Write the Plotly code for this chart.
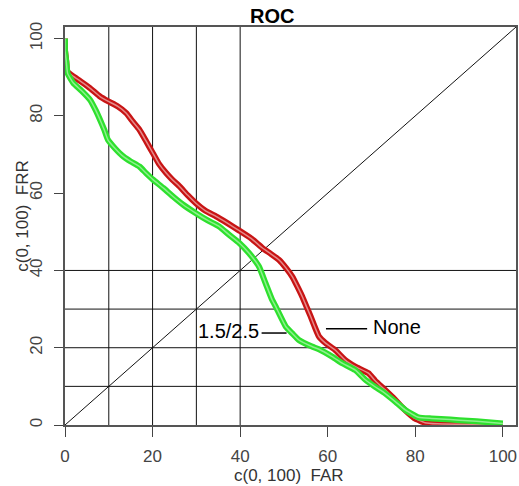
import plotly.graph_objects as go

# ---- data ----
red_far = [0, 0, 0.3, 0.5, 1.9, 3.5, 5.7, 8, 9.8, 12, 14, 15.5, 17, 18.5, 20.1, 21.5, 23.1, 24.5,
           26.1, 28, 29.9, 32, 34.5, 37, 39.8, 42.5, 45.1, 47, 48.9, 50.5, 51.9, 53, 54.2, 55.2,
           56.1, 57, 58, 59.5, 61.7, 64, 66.3, 69.3, 70.8, 73.1, 75, 76.9, 78.5, 79.9, 82.2, 85,
           90, 95, 100]
red_frr = [100, 97, 94, 91.5, 90.2, 89, 87.2, 85, 83.8, 82.5, 80.7, 78.5, 76.4, 73.5, 70.3, 67.5,
           65.2, 63.5, 61.8, 59.5, 57.4, 55.5, 54, 52.3, 50.3, 48.3, 45.8, 44.3, 42.7, 40.6, 38.4,
           36, 33.2, 30.5, 28.1, 25.5, 22.9, 21.2, 19.4, 16.8, 15.1, 13.4, 11.5, 9.1, 7, 4.7, 3,
           1.7, 0.6, 0.3, 0.2, 0.1, 0]

green_far = [0, 0, 0.3, 0.6, 1.9, 3.8, 5.7, 7, 8, 9, 9.8, 11.5, 13.3, 15, 17, 18.5, 20.1, 22.5,
             24.6, 27, 29.9, 32.5, 35.2, 37.5, 39.8, 42, 44.3, 45.8, 47.3, 48.1, 50.4, 51.9, 53.4,
             56.4, 58, 61, 63.3, 66.3, 68.6, 70.8, 73.1, 75.5, 77.7, 80.7, 83.7, 88, 92, 96, 100]
green_frr = [100, 97, 94, 91, 88.5, 86.5, 84.2, 81.5, 79, 76.3, 73.8, 71.5, 69.5, 68.2, 66.9, 65.2,
             63.5, 61.3, 59.2, 57, 54.8, 53, 51.4, 49.2, 47.1, 44.5, 41, 36.7, 32.4, 30.7, 25.5,
             23.7, 22, 20.3, 19.6, 17.7, 16, 14.2, 11.7, 9.9, 8.2, 6, 3.9, 2, 1.7, 1.4, 1.1, 0.8,
             0.4]

x_ticks = [0, 20, 40, 60, 80, 100]
y_ticks = [0, 20, 40, 60, 80, 100]
v_lines = [10, 20, 30, 40]
h_lines = [10, 20, 30, 40]
axis_max = 103

title_text = "ROC"
x_title = "c(0, 100)\u00a0 FAR"
y_title = "c(0, 100)\u00a0 FRR"

FONT = "Liberation Sans, Arial, sans-serif"

fig = go.Figure()

# red series ("None")
fig.add_trace(go.Scatter(x=red_far, y=red_frr, mode="lines",
                         line=dict(color="#c81414", width=6, shape="spline", smoothing=0.4),
                         hoverinfo="skip", cliponaxis=False))
fig.add_trace(go.Scatter(x=red_far, y=red_frr, mode="lines",
                         line=dict(color="#e58a8a", width=1.5, shape="spline", smoothing=0.4),
                         hoverinfo="skip", cliponaxis=False))
# green series ("1.5/2.5")
fig.add_trace(go.Scatter(x=green_far, y=green_frr, mode="lines",
                         line=dict(color="#2ee02e", width=6, shape="spline", smoothing=0.4),
                         hoverinfo="skip", cliponaxis=False))
fig.add_trace(go.Scatter(x=green_far, y=green_frr, mode="lines",
                         line=dict(color="#8ef08e", width=1.5, shape="spline", smoothing=0.4),
                         hoverinfo="skip", cliponaxis=False))

shapes = []
for v in v_lines:
    shapes.append(dict(type="line", xref="x", yref="y", x0=v, x1=v, y0=0, y1=axis_max,
                       line=dict(color="#111", width=1), layer="below"))
for h in h_lines:
    shapes.append(dict(type="line", xref="x", yref="y", x0=0, x1=axis_max, y0=h, y1=h,
                       line=dict(color="#111", width=1), layer="below"))
shapes.append(dict(type="line", xref="x", yref="y", x0=0, y0=0, x1=axis_max, y1=axis_max,
                   line=dict(color="#111", width=1), layer="below"))
# label leader segments
shapes.append(dict(type="line", xref="x", yref="y", x0=44.9, x1=50.6, y0=23.8, y1=23.8,
                   line=dict(color="#000", width=1.5)))
shapes.append(dict(type="line", xref="x", yref="y", x0=59.6, x1=69.0, y0=24.9, y1=24.9,
                   line=dict(color="#000", width=1.5)))

annotations = [
    dict(text="<b>" + title_text + "</b>", x=0.459, y=1.028, xref="paper", yref="paper",
         showarrow=False, font=dict(family=FONT, size=20, color="#000"), xanchor="center",
         yanchor="middle"),
    dict(text=x_title, x=0.497, y=-0.127, xref="paper", yref="paper", showarrow=False,
         font=dict(family=FONT, size=17, color="#333"), xanchor="center", yanchor="middle"),
    dict(text=y_title, x=-0.096, y=0.525, xref="paper", yref="paper", showarrow=False,
         textangle=-90, font=dict(family=FONT, size=17, color="#333"), xanchor="center",
         yanchor="middle"),
    dict(text="1.5/2.5", x=44.8, y=24.4, xref="x", yref="y", showarrow=False, xanchor="right",
         yanchor="middle", font=dict(family=FONT, size=20, color="#000")),
    dict(text="None", x=69.8, y=25.3, xref="x", yref="y", showarrow=False, xanchor="left",
         yanchor="middle", font=dict(family=FONT, size=20, color="#000")),
]

fig.update_layout(
    width=519, height=486,
    margin=dict(l=65, r=1, t=27, b=61),
    paper_bgcolor="white", plot_bgcolor="white",
    showlegend=False,
    shapes=shapes, annotations=annotations,
    xaxis=dict(range=[0, axis_max], tickvals=x_ticks, ticks="outside", ticklen=10,
               tickcolor="#444", showgrid=False, zeroline=False, showline=True, mirror=True,
               linecolor="#555", linewidth=1.5, ticklabelstandoff=5,
               tickfont=dict(family=FONT, size=17, color="#444")),
    yaxis=dict(range=[0, axis_max], tickvals=y_ticks, ticks="outside", ticklen=9,
               tickcolor="#444", showgrid=False, zeroline=False, showline=True, mirror=True,
               linecolor="#555", linewidth=1.5, tickangle=-90, ticklabelstandoff=5,
               tickfont=dict(family=FONT, size=17, color="#444")),
)

fig.write_html("out.html")
